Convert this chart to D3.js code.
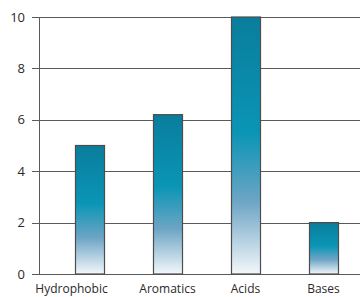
<!DOCTYPE html>
<html>
<head>
<meta charset="utf-8">
<script src="https://cdn.jsdelivr.net/npm/d3@7"></script>
<style>
  body { margin: 0; background: #fff; }
  text { font-family: "Open Sans", sans-serif; fill: #2a2a2a; }
</style>
</head>
<body>
<div id="wrapper"></div>
<script>
const categories = ["Hydrophobic", "Aromatics", "Acids", "Bases"]
const values = [5, 6.2, 10, 2]
const yTicks = [0, 2, 4, 6, 8, 10]

async function draw(){

    // 1. Dimensions
    let dimensions = {
        width: 360,
        height: 297,
        margin: { top: 17, right: 0, bottom: 23, left: 39 },
    }
    dimensions.boundedWidth = dimensions.width - dimensions.margin.left - dimensions.margin.right
    dimensions.boundedHeight = dimensions.height - dimensions.margin.top - dimensions.margin.bottom

    const wrapper = d3.select("#wrapper")
        .append("svg")
        .attr("width", dimensions.width)
        .attr("height", dimensions.height)

    const defs = wrapper.append("defs")
    const grad = defs.append("linearGradient")
        .attr("id", "barGrad")
        .attr("x1", 0).attr("y1", 0).attr("x2", 0).attr("y2", 1)
    grad.append("stop").attr("offset", "0%").attr("stop-color", "#0a7d9c")
    grad.append("stop").attr("offset", "45%").attr("stop-color", "#0a95b5")
    grad.append("stop").attr("offset", "72%").attr("stop-color", "#6ea5c5")
    grad.append("stop").attr("offset", "100%").attr("stop-color", "#f3f7fa")

    const bounds = wrapper.append("g")
        .attr("transform", `translate(${dimensions.margin.left}, ${dimensions.margin.top})`)

    // 2. Scales
    const yScale = d3.scaleLinear()
        .domain([0, 10])
        .range([dimensions.boundedHeight, 0])

    const xScale = d3.scaleBand()
        .domain(categories)
        .range([0, 335])
        .paddingInner(0.628)
        .paddingOuter(0.4615)

    // 3. Gridlines
    bounds.append("g")
        .selectAll("line")
        .data(yTicks)
        .join("line")
        .attr("x1", -7)
        .attr("x2", dimensions.boundedWidth)
        .attr("y1", d => Math.round(yScale(d)) + 0.5)
        .attr("y2", d => Math.round(yScale(d)) + 0.5)
        .attr("stroke", "#5a5a5a")
        .attr("stroke-width", 1)

    bounds.append("line")
        .attr("x1", 0.5).attr("x2", 0.5)
        .attr("y1", 0).attr("y2", dimensions.boundedHeight)
        .attr("stroke", "#5a5a5a")

    bounds.append("g")
        .selectAll("text")
        .data(yTicks)
        .join("text")
        .attr("x", -14)
        .attr("y", d => yScale(d))
        .attr("dy", "0.35em")
        .attr("text-anchor", "end")
        .style("font-size", "13px")
        .text(d => d)

    // 4. Bars
    const data = categories.map((c, i) => ({ cat: c, val: values[i] }))

    bounds.append("g")
        .selectAll("rect")
        .data(data)
        .join("rect")
        .attr("x", d => xScale(d.cat) + 0.5)
        .attr("y", d => yScale(d.val))
        .attr("width", xScale.bandwidth())
        .attr("height", d => yScale(0) - yScale(d.val))
        .attr("fill", "url(#barGrad)")
        .attr("stroke", "#4d4d4d")
        .attr("stroke-width", 1.2)

    // 5. Category labels (first one sits further left in the original)
    bounds.append("g")
        .selectAll("text")
        .data(categories)
        .join("text")
        .attr("x", (d, i) => xScale(d) + xScale.bandwidth() / 2 - (i === 0 ? 18 : 0))
        .attr("y", dimensions.boundedHeight + 19)
        .attr("text-anchor", "middle")
        .style("font-size", "12px")
        .text(d => d)
}

draw()
</script>
</body>
</html>
